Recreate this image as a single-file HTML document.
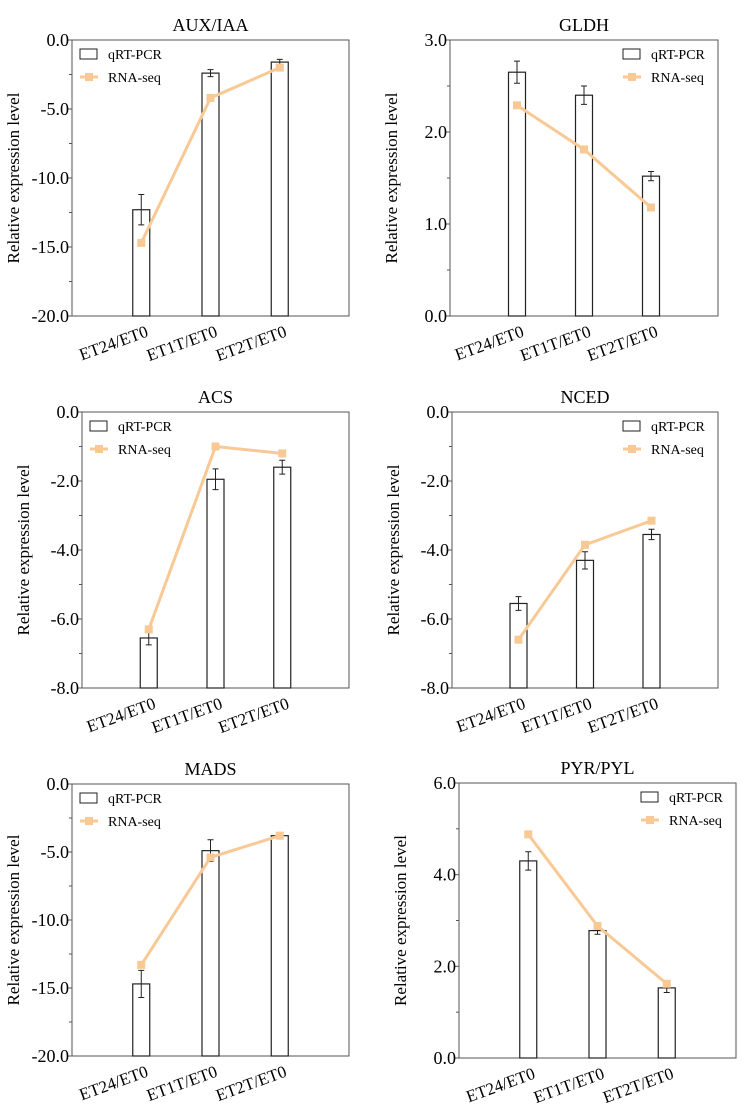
<!DOCTYPE html>
<html><head><meta charset="utf-8"><style>
body{margin:0;background:#fff;width:742px;height:1118px;overflow:hidden}
svg{display:block;font-family:"Liberation Serif",serif}
</style></head><body>
<svg id="c" width="742" height="1118"></svg>
<script>
const categories=["ET24/ET0","ET1T/ET0","ET2T/ET0"];
const titles=["AUX/IAA","GLDH","ACS","NCED","MADS","PYR/PYL"];
const qpcrValues=[[-12.3,-2.4,-1.6],[2.65,2.4,1.52],[-6.55,-1.95,-1.6],[-5.55,-4.3,-3.55],[-14.7,-4.9,-3.8],[4.3,2.78,1.53]];
const qpcrErrors=[[1.1,0.25,0.2],[0.12,0.1,0.05],[0.2,0.3,0.2],[0.2,0.25,0.15],[1.0,0.8,0.2],[0.2,0.08,0.1]];
const rnaValues=[[-14.7,-4.2,-2.0],[2.29,1.81,1.18],[-6.3,-1.0,-1.2],[-6.6,-3.85,-3.15],[-13.3,-5.4,-3.8],[4.88,2.88,1.62]];
const yMins=[-20,0,-8,-8,-20,0];
const yMaxs=[0,3,0,0,0,6];
const majorSteps=[5,1,2,2,5,2];
const legendSides=["left","right","left","right","left","right"];
const layouts=[[72,349,40,316],[450,718,40,316],[82,349,412,688],[452,718,412,688],[72,349,784,1056],[459,736,783,1058]];
const NS="http://www.w3.org/2000/svg";
const svg=document.getElementById('c');
function mk(t,a,p){const e=document.createElementNS(NS,t);for(const k in a)e.setAttribute(k,a[k]);(p||svg).appendChild(e);return e;}
const ORANGE="#f9c995";
titles.forEach((title,i)=>{
  const [L,R,T,B]=layouts[i];
  const g=mk('g',{});
  
  
  const y=v=>B-(v-yMins[i])/(yMaxs[i]-yMins[i])*(B-T);
  const bw=(R-L)/4;
  const x=j=>L+bw*(j+1);
  const t=mk('text',{x:(L+R)/2,y:T-9,'text-anchor':'middle','font-size':18},g);t.textContent=title;
  
  const fr=mk('rect',{x:L,y:T,width:R-L,height:B-T,fill:'none',stroke:'#555','stroke-width':1},g);
  
  const step=majorSteps[i];
  for(let v=yMins[i];v<=yMaxs[i]+1e-9;v+=step/2){
    const major=Math.abs(Math.round((v-yMins[i])/step)*step-(v-yMins[i]))<1e-6;
    mk('line',{x1:L-(major?5:3),x2:L,y1:y(v),y2:y(v),stroke:'#555'},g);
    if(major){const tl=mk('text',{x:L-3,y:y(v)+6,'text-anchor':'end','font-size':18},g);tl.textContent=v.toFixed(1);
      }
  }
  const yl=mk('text',{x:0,y:0,'text-anchor':'middle','font-size':17,transform:`translate(${L-53},${(T+B)/2}) rotate(-90)`},g);
  yl.textContent='Relative expression level';
  
  categories.forEach((c,j)=>{
    const cx=x(j),v=qpcrValues[i][j],e=qpcrErrors[i][j];
    const base=y(yMins[i]);
    const top=y(v);
    const b=mk('rect',{x:cx-8.5,y:top,width:17,height:base-top,fill:'#fff',stroke:'#222','stroke-width':1.2},g);
    
    const e1=y(v+e),e2=y(v-e);
    const eb=mk('path',{d:`M${cx},${e1}V${e2}M${cx-3},${e1}H${cx+3}M${cx-3},${e2}H${cx+3}`,stroke:'#222','stroke-width':1,fill:'none'},g);
    
    const xl=mk('text',{x:0,y:0,'text-anchor':'end','font-size':17,transform:`translate(${cx+8},${B+20}) rotate(-20)`},g);
    xl.textContent=c;
  });
  const pts=rnaValues[i].map((v,j)=>[x(j),y(v)]);
  const ln=mk('polyline',{points:pts.map(p=>p.join(',')).join(' '),fill:'none',stroke:ORANGE,'stroke-width':3},g);
  
  pts.forEach(p=>{const m=mk('rect',{x:p[0]-4,y:p[1]-4,width:8,height:8,fill:ORANGE},g);
    });
  const lx=legendSides[i]==='left'?L+8:R-95;
  const lg=mk('g',{},g);
  mk('rect',{x:lx,y:T+9,width:17,height:10,fill:'#fff',stroke:'#222'},lg);
  const t1=mk('text',{x:lx+28,y:T+19,'font-size':14},lg);t1.textContent='qRT-PCR';
  mk('line',{x1:lx,x2:lx+18,y1:T+37,y2:T+37,stroke:ORANGE,'stroke-width':3},lg);
  mk('rect',{x:lx+5,y:T+33,width:8,height:8,fill:ORANGE},lg);
  const t2=mk('text',{x:lx+28,y:T+42,'font-size':14},lg);t2.textContent='RNA-seq';
});
</script>
</body></html>
